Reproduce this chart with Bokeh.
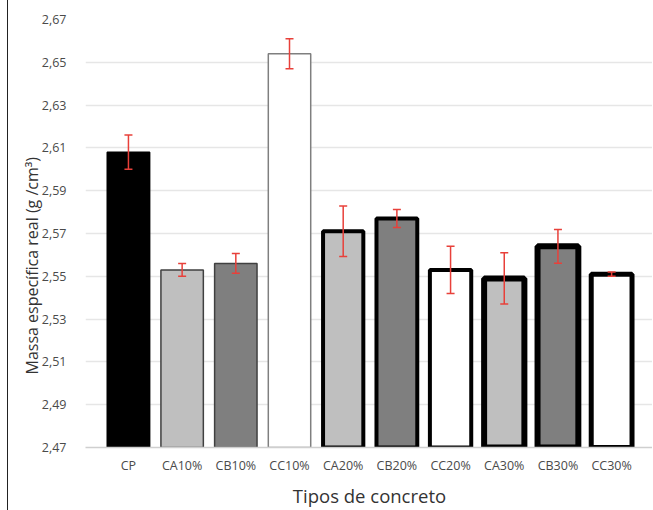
from bokeh.plotting import figure
from bokeh.models import ColumnDataSource, Whisker, FixedTicker, TeeHead, Range1d, Title
from bokeh.embed import file_html
from bokeh.resources import INLINE

categories = ["CP", "CA10%", "CB10%", "CC10%", "CA20%", "CB20%", "CC20%", "CA30%", "CB30%", "CC30%"]
values = [2.608, 2.553, 2.556, 2.654, 2.571, 2.577, 2.553, 2.549, 2.564, 2.551]
errors = [0.008, 0.003, 0.0046, 0.007, 0.0118, 0.0042, 0.011, 0.012, 0.0079, 0.001]
fills = ["#000000", "#bfbfbf", "#7f7f7f", "#ffffff", "#bfbfbf", "#7f7f7f", "#ffffff", "#bfbfbf", "#7f7f7f", "#ffffff"]
lines = ["#000000", "#404040", "#404040", "#7f7f7f", "#000000", "#000000", "#000000", "#000000", "#000000", "#000000"]
line_widths = [1.5, 1.5, 1.5, 1.5, 4, 4, 4, 6, 6, 5]
bar_widths = [0.79, 0.79, 0.79, 0.79, 0.75, 0.76, 0.77, 0.75, 0.76, 0.76]
y_ticks = [2.47, 2.49, 2.51, 2.53, 2.55, 2.57, 2.59, 2.61, 2.63, 2.65, 2.67]
y_tick_labels = ["2,47", "2,49", "2,51", "2,53", "2,55", "2,57", "2,59", "2,61", "2,63", "2,65", "2,67"]

xs = list(range(len(categories)))
src = ColumnDataSource(dict(
    x=xs, top=values, fill=fills, line=lines, lw=line_widths, bw=bar_widths,
    upper=[v + e for v, e in zip(values, errors)],
    lower=[v - e for v, e in zip(values, errors)],
))

p = figure(width=645, height=510, output_backend="svg", toolbar_location=None,
           x_range=Range1d(-0.80, 9.78), y_range=Range1d(2.47, 2.67),
           min_border_left=77, min_border_right=0, min_border_top=19, min_border_bottom=60)
p.styles = {"margin-left": "7px", "border-left": "1.5px solid #222222"}
p.outline_line_color = None
p.background_fill_color = "white"
p.border_fill_color = "white"

p.vbar(x="x", top="top", bottom=2.47, width="bw", source=src,
       fill_color="fill", line_color="line", line_width="lw")

red = "#e8403a"
w = Whisker(base="x", upper="upper", lower="lower", source=src, line_color=red, line_width=1.5,
            upper_head=TeeHead(size=8, line_color=red, line_width=1.5),
            lower_head=TeeHead(size=8, line_color=red, line_width=1.5))
w.level = "overlay"
p.add_layout(w)

p.xgrid.grid_line_color = None
p.ygrid.grid_line_color = "#e6e6e6"
p.ygrid.grid_line_width = 1.5
p.ygrid.ticker = FixedTicker(ticks=y_ticks)

p.yaxis.ticker = FixedTicker(ticks=y_ticks)
p.yaxis.major_label_overrides = {t: l for t, l in zip(y_ticks, y_tick_labels)}
p.yaxis.axis_line_color = None
p.yaxis.major_tick_line_color = None
p.yaxis.minor_tick_line_color = None
p.yaxis.major_label_standoff = 13

p.xaxis.ticker = FixedTicker(ticks=xs)
p.xaxis.major_label_overrides = {i: c for i, c in enumerate(categories)}
p.xaxis.axis_line_color = "#cfcfcf"
p.xaxis.axis_line_width = 1.5
p.xaxis.major_tick_line_color = None
p.xaxis.minor_tick_line_color = None
p.xaxis.major_label_standoff = 3
p.xaxis.axis_label = "Tipos de concreto"
p.xaxis.axis_label_standoff = 6

for ax in (p.xaxis, p.yaxis):
    ax.major_label_text_font = "Open Sans"
    ax.major_label_text_font_size = "12.5px"
    ax.major_label_text_color = "#4a4a4a"
p.xaxis.axis_label_text_font = "Open Sans"
p.xaxis.axis_label_text_font_size = "18.5px"
p.xaxis.axis_label_text_font_style = "normal"
p.xaxis.axis_label_text_color = "#333333"

ytitle = Title(text="Massa específica real (g /cm³)", align="left", offset=73,
               text_font="Open Sans", text_font_size="16px", text_font_style="normal",
               text_color="#333333", standoff=-9)
p.add_layout(ytitle, "left")

open("out.html", "w").write(file_html(p, INLINE))
